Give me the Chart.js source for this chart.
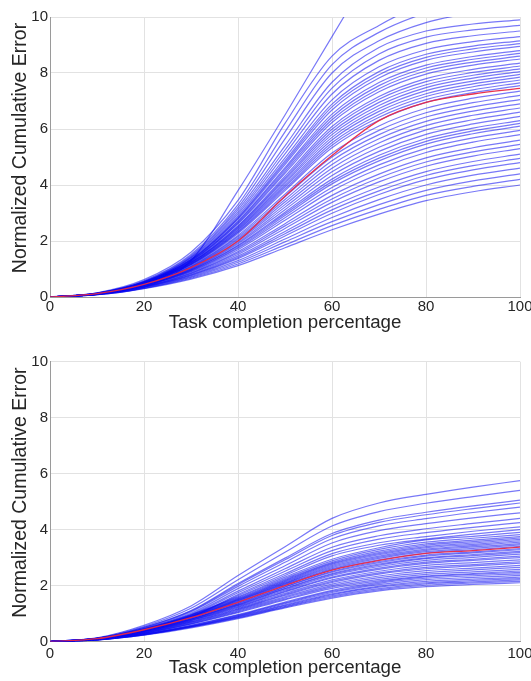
<!DOCTYPE html>
<html><head><meta charset="utf-8">
<script src="https://cdn.jsdelivr.net/npm/chart.js@4.4.1/dist/chart.umd.min.js"></script>
<style>
html,body{margin:0;padding:0;background:#fff;overflow:hidden;width:531px;height:681px;}
canvas{display:block;}
</style></head><body>
<canvas id="top" width="545" height="340"></canvas>
<canvas id="bot" width="545" height="341"></canvas>
<script>
// ---- shared axes ----
const xs = [0,10,20,30,40,50,60,70,80,90,100];          // task completion percentage
const xTickValues = [0,20,40,60,80,100];
const yTickValues = [0,2,4,6,8,10];
const xTitle = 'Task completion percentage';
const yTitle = 'Normalized Cumulative Error';

// ---- top panel: curves read at x = 0,10,...,100 ----
const topMean = [0,.12,.45,1.05,2.0,3.6,5.05,6.3,6.95,7.25,7.45];
const topOutlier = [0,.08,.35,1.3,3.8,6.5,9.3,12.0,14.0,15.0,15.5];
const topUpper = [
 [0,.15,.62,1.60,3.45,6.20,8.60,9.70,10.50,11.00,11.30],
 [0,.14,.58,1.52,3.30,5.90,8.30,9.45,10.15,10.60,10.90],
 [0,.14,.56,1.47,3.20,5.65,8.00,9.15,9.80,10.15,10.40],
 [0,.13,.54,1.44,3.12,5.40,7.67,8.91,9.50,9.75,9.90],
 [0,.13,.54,1.41,3.04,5.25,7.46,8.68,9.28,9.54,9.70],
 [0,.12,.53,1.39,2.97,5.11,7.25,8.45,9.06,9.33,9.50],
 [0,.12,.53,1.36,2.90,4.97,7.04,8.22,8.83,9.12,9.30],
 [0,.12,.53,1.34,2.84,4.87,6.89,8.05,8.67,8.96,9.15],
 [0,.12,.52,1.33,2.81,4.80,6.79,7.94,8.56,8.86,9.05],
 [0,.13,.52,1.32,2.77,4.73,6.68,7.82,8.45,8.75,8.95],
 [0,.12,.52,1.30,2.71,4.62,6.53,7.66,8.28,8.59,8.80],
 [0,.12,.51,1.29,2.68,4.56,6.43,7.55,8.18,8.49,8.70],
 [0,.12,.51,1.28,2.64,4.49,6.33,7.44,8.07,8.39,8.60],
 [0,.12,.51,1.26,2.61,4.42,6.23,7.33,7.96,8.28,8.50]
];
const topMiddle = [
 [0,.12,.50,1.24,2.55,4.32,6.09,7.16,7.80,8.13,8.35],
 [0,.12,.50,1.23,2.52,4.25,5.99,7.06,7.69,8.02,8.25],
 [0,.12,.50,1.22,2.48,4.19,5.89,6.95,7.58,7.92,8.15],
 [0,.12,.49,1.21,2.45,4.12,5.80,6.84,7.48,7.82,8.05],
 [0,.11,.49,1.19,2.41,4.06,5.70,6.73,7.37,7.71,7.95],
 [0,.11,.49,1.18,2.38,3.99,5.61,6.63,7.26,7.61,7.85],
 [0,.11,.48,1.17,2.34,3.93,5.51,6.52,7.16,7.51,7.75],
 [0,.11,.48,1.15,2.31,3.86,5.42,6.42,7.05,7.40,7.65],
 [0,.11,.48,1.14,2.27,3.80,5.33,6.31,6.95,7.30,7.55],
 [0,.11,.47,1.11,2.20,3.67,5.14,6.11,6.74,7.10,7.35],
 [0,.11,.46,1.09,2.15,3.58,5.00,5.95,6.58,6.94,7.20],
 [0,.10,.46,1.07,2.10,3.48,4.87,5.80,6.43,6.79,7.05],
 [0,.10,.45,1.05,2.05,3.39,4.73,5.65,6.27,6.64,6.90],
 [0,.10,.44,1.03,2.00,3.30,4.60,5.50,6.12,6.49,6.75],
 [0,.10,.44,1.01,1.95,3.21,4.47,5.35,5.97,6.33,6.60],
 [0,.10,.43,.99,1.90,3.12,4.34,5.20,5.81,6.18,6.45],
 [0,.10,.42,.97,1.85,3.03,4.21,5.06,5.66,6.03,6.30],
 [0,.10,.42,.96,1.82,2.97,4.12,4.96,5.56,5.93,6.20],
 [0,.10,.41,.94,1.78,2.91,4.04,4.86,5.46,5.83,6.10],
 [0,.09,.41,.92,1.74,2.83,3.91,4.72,5.31,5.68,5.95]
];
const topLower = [
 [0,.10,.40,.90,1.69,2.74,3.79,4.58,5.16,5.53,5.80],
 [0,.10,.39,.87,1.62,2.62,3.63,4.39,4.97,5.33,5.60],
 [0,.10,.38,.85,1.57,2.54,3.50,4.25,4.82,5.18,5.45],
 [0,.10,.37,.83,1.52,2.45,3.38,4.11,4.67,5.03,5.30],
 [0,.09,.36,.80,1.46,2.34,3.23,3.93,4.48,4.84,5.10],
 [0,.09,.36,.78,1.41,2.26,3.11,3.79,4.34,4.69,4.95],
 [0,.09,.35,.76,1.37,2.18,2.99,3.66,4.19,4.54,4.80],
 [0,.09,.34,.73,1.30,2.07,2.84,3.48,4.00,4.35,4.60],
 [0,.09,.32,.70,1.24,1.97,2.69,3.30,3.81,4.15,4.40],
 [0,.08,.31,.67,1.18,1.86,2.55,3.13,3.63,3.95,4.20],
 [0,.08,.30,.64,1.12,1.76,2.40,2.96,3.44,3.76,4.00]
];

// ---- bottom panel ----
const botMean = [0,.10,.42,.85,1.40,2.00,2.55,2.90,3.15,3.25,3.37];
const botUpper = [
 [0,.13,.58,1.27,2.36,3.39,4.40,4.95,5.26,5.52,5.75],
 [0,.12,.54,1.19,2.21,3.19,4.13,4.64,4.94,5.18,5.40],
 [0,.11,.51,1.11,2.07,2.98,3.86,4.34,4.62,4.85,5.05],
 [0,.11,.50,1.09,2.03,2.92,3.79,4.26,4.53,4.75,4.95],
 [0,.11,.48,1.06,1.97,2.83,3.67,4.13,4.39,4.61,4.80],
 [0,.10,.46,1.01,1.89,2.71,3.52,3.96,4.21,4.42,4.60],
 [0,.10,.44,.97,1.80,2.60,3.37,3.78,4.03,4.22,4.40],
 [0,.09,.43,.94,1.74,2.51,3.25,3.66,3.89,4.08,4.25],
 [0,.09,.41,.90,1.68,2.42,3.14,3.53,3.75,3.94,4.10],
 [0,.09,.40,.88,1.64,2.36,3.06,3.44,3.66,3.84,4.00]
];
const botMiddle = [
 [0,.11,.45,.96,1.60,2.30,2.94,3.35,3.63,3.76,3.90],
 [0,.11,.44,.94,1.57,2.25,2.88,3.29,3.55,3.69,3.82],
 [0,.11,.43,.92,1.54,2.21,2.83,3.23,3.49,3.62,3.75],
 [0,.10,.43,.91,1.52,2.18,2.79,3.18,3.44,3.57,3.70],
 [0,.10,.42,.89,1.50,2.15,2.76,3.14,3.39,3.52,3.65],
 [0,.10,.41,.88,1.48,2.12,2.72,3.10,3.35,3.47,3.60],
 [0,.10,.41,.87,1.46,2.09,2.68,3.05,3.30,3.43,3.55],
 [0,.10,.40,.86,1.44,2.07,2.64,3.01,3.26,3.38,3.50],
 [0,.10,.40,.85,1.41,2.04,2.60,2.97,3.21,3.33,3.45],
 [0,.10,.39,.83,1.39,2.01,2.57,2.92,3.16,3.28,3.40],
 [0,.09,.38,.81,1.36,1.96,2.51,2.86,3.09,3.20,3.32],
 [0,.09,.38,.80,1.34,1.94,2.48,2.82,3.05,3.17,3.28],
 [0,.09,.37,.79,1.32,1.90,2.43,2.77,2.99,3.11,3.22],
 [0,.09,.37,.78,1.30,1.88,2.40,2.73,2.96,3.07,3.18],
 [0,.09,.36,.76,1.28,1.84,2.36,2.68,2.90,3.01,3.12],
 [0,.09,.35,.75,1.25,1.80,2.30,2.62,2.84,2.94,3.05],
 [0,.08,.35,.74,1.23,1.77,2.27,2.58,2.79,2.90,3.00],
 [0,.08,.34,.72,1.20,1.72,2.20,2.51,2.72,2.82,2.92],
 [0,.08,.33,.70,1.17,1.68,2.15,2.45,2.65,2.75,2.85],
 [0,.08,.32,.69,1.15,1.65,2.11,2.41,2.60,2.70,2.80],
 [0,.08,.31,.67,1.12,1.60,2.05,2.34,2.53,2.62,2.72],
 [0,.07,.30,.65,1.09,1.56,2.00,2.28,2.46,2.56,2.65],
 [0,.07,.30,.63,1.06,1.52,1.95,2.22,2.40,2.49,2.58],
 [0,.07,.29,.62,1.03,1.49,1.90,2.17,2.34,2.43,2.52]
];
const botLower = [
 [0,.07,.27,.58,.96,1.41,1.83,2.12,2.31,2.40,2.47],
 [0,.07,.27,.57,.94,1.38,1.79,2.08,2.26,2.35,2.42],
 [0,.06,.26,.55,.92,1.35,1.75,2.03,2.21,2.29,2.36],
 [0,.06,.25,.54,.90,1.31,1.70,1.98,2.15,2.23,2.30],
 [0,.06,.25,.53,.88,1.28,1.67,1.94,2.10,2.18,2.25],
 [0,.06,.24,.52,.86,1.25,1.63,1.89,2.06,2.13,2.20],
 [0,.06,.24,.51,.84,1.23,1.59,1.85,2.01,2.09,2.15],
 [0,.06,.23,.49,.82,1.20,1.55,1.81,1.96,2.04,2.10]
];

// ---- drawing ----
const FONT = '"Liberation Sans", Arial, Helvetica, sans-serif';
const TXT = '#262626';
const toPts = arr => arr.map((v,i) => ({x: xs[i], y: v}));

// y-axis title drawn rotated, centred a little above the middle of the axis (as in the original)
const yTitlePlugin = {
  id: 'yTitleShift',
  afterDraw(chart, args, opts) {
    const {ctx, chartArea} = chart;
    ctx.save();
    ctx.translate(opts.x, (chartArea.top + chartArea.bottom) / 2 - opts.shift);
    ctx.rotate(-Math.PI / 2);
    ctx.font = '19.5px ' + FONT;
    ctx.fillStyle = TXT;
    ctx.textAlign = 'center';
    ctx.textBaseline = 'middle';
    ctx.fillText(yTitle, 0, 0);
    ctx.restore();
  }
};

function build(id, lines, mean, cfg) {
  const datasets = [{data: toPts(mean), borderColor: 'rgba(232,40,70,0.95)', borderWidth: 1.3, order: 0}];
  lines.forEach(l => datasets.push({data: toPts(l), borderColor: 'rgba(10,10,240,0.55)', borderWidth: 1.2, order: 1}));
  new Chart(document.getElementById(id), {
    type: 'line',
    data: {datasets},
    plugins: [yTitlePlugin],
    options: {
      responsive: false, animation: false, devicePixelRatio: 1, events: [],
      elements: {point: {radius: 0}, line: {cubicInterpolationMode: 'monotone', fill: false}},
      layout: {padding: {left: 0, right: 25, top: cfg.top, bottom: 0}},
      plugins: {legend: {display: false}, tooltip: {enabled: false}, yTitleShift: {x: 20.7, shift: 9}},
      scales: {
        x: {
          type: 'linear', min: 0, max: 100,
          afterBuildTicks: s => { s.ticks = xTickValues.map(v => ({value: v})); },
          afterFit: s => { s.height = cfg.xh; },
          grid: {color: '#e2e2e2', drawTicks: false},
          border: {color: '#9a9a9a'},
          ticks: {padding: cfg.tickPad, color: TXT, font: {family: FONT, size: 15}, maxRotation: 0, autoSkip: false},
          title: {display: true, text: xTitle, color: TXT, font: {family: FONT, size: 18.7}, padding: {top: 0, bottom: cfg.titlePad}}
        },
        y: {
          min: 0, max: 10,
          afterBuildTicks: s => { s.ticks = yTickValues.map(v => ({value: v})); },
          afterFit: s => { s.width = 50; },
          grid: {color: '#e2e2e2', drawTicks: false},
          border: {color: '#9a9a9a'},
          ticks: {padding: 2, color: TXT, font: {family: FONT, size: 15}},
          title: {display: false}
        }
      }
    }
  });
}

build('top', [...topUpper, ...topMiddle, ...topLower, topOutlier], topMean, {top: 17, xh: 43, tickPad: 1, titlePad: 6.1});
build('bot', [...botUpper, ...botMiddle, ...botLower], botMean, {top: 21.7, xh: 39.5, tickPad: 3.5, titlePad: 1.6});
</script></body></html>
